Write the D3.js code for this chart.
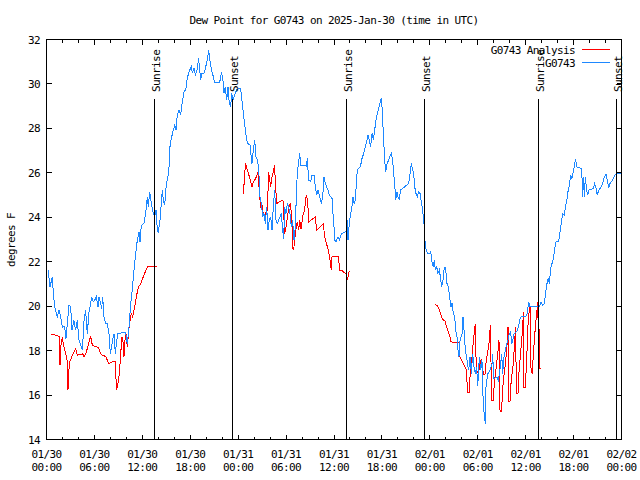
<!DOCTYPE html>
<html>
<head>
<meta charset="utf-8">
<script src="https://cdn.jsdelivr.net/npm/d3@7"></script>
<style>
  html, body { margin: 0; padding: 0; background: #fff; }
  svg { display: block; }
  text { font-family: "DejaVu Sans Mono", monospace; font-size: 11px; letter-spacing: -0.6px; fill: #000; }
</style>
</head>
<body>
<svg id="chart" width="640" height="480"></svg>
<script>
// ---------------- DATA ----------------
const titleText = "Dew Point for G0743 on 2025-Jan-30 (time in UTC)";
const yLabel = "degrees F";
const seriesNames = ["G0743 Analysis", "G0743"];
const seriesColors = ["#ff0000", "#1e88ff"];
const startTime = "2025-01-30T00:00:00Z";
const endTime = "2025-02-02T00:00:00Z";
const yTicks = [14, 16, 18, 20, 22, 24, 26, 28, 30, 32];

// G0743 observations: hours after 2025-01-30 00:00 UTC, dew point (F)
const blueHours = [0.19,0.44,0.73,0.86,1.02,1.36,1.57,1.77,1.98,2.27,2.44,2.61,2.82,3.03,3.19,3.44,3.65,3.86,4.07,4.28,4.49,4.70,4.90,5.11,5.32,5.53,5.66,5.86,6.03,6.24,6.45,6.57,6.78,6.91,7.03,7.20,7.41,7.62,7.83,7.99,8.24,8.45,8.62,8.79,8.95,9.37,9.91,10.12,10.33,10.54,10.75,10.96,11.17,11.37,11.58,11.71,11.87,12.21,12.42,12.63,12.75,12.92,13.13,13.38,13.55,13.71,13.88,14.00,14.21,14.38,14.50,14.63,14.80,15.01,15.21,15.34,15.46,15.63,15.88,16.05,16.22,16.38,16.59,16.80,17.01,17.22,17.43,17.63,17.84,18.14,18.26,18.47,18.64,18.85,19.05,19.18,19.30,19.47,19.72,19.89,20.14,20.31,20.43,20.56,20.72,20.89,21.06,21.68,21.89,22.06,22.23,22.39,22.56,22.73,22.89,23.06,23.19,23.35,23.56,23.81,24.06,24.31,24.52,24.69,24.90,25.06,25.23,25.48,25.73,25.90,26.07,26.23,26.40,26.57,26.73,26.90,27.07,27.23,27.40,27.57,27.74,27.90,28.07,28.24,28.40,28.57,28.74,28.90,29.24,29.41,29.57,29.70,29.82,29.99,30.16,30.32,30.49,30.66,30.82,30.99,31.16,31.33,31.49,31.70,31.83,32.54,32.66,32.83,33.08,33.25,33.50,33.66,33.83,34.00,34.21,34.41,34.58,34.75,34.92,35.08,35.25,35.42,35.58,35.75,35.85,35.92,36.00,36.08,36.25,36.50,36.67,36.84,37.00,37.42,37.55,37.63,37.75,37.92,38.09,38.25,38.38,38.51,38.67,38.80,38.92,39.09,39.30,39.51,39.72,39.92,40.13,40.26,40.42,40.59,40.76,40.93,41.09,41.26,41.43,41.59,41.76,41.89,42.01,42.09,42.22,42.35,42.47,42.64,42.85,43.05,43.18,43.35,43.47,43.60,43.72,43.89,44.01,44.18,44.31,44.85,45.35,45.52,45.68,45.85,45.98,46.10,46.27,46.44,46.60,46.77,46.94,47.10,47.27,47.35,47.52,47.69,47.94,48.11,48.27,48.44,48.56,48.69,48.86,49.02,49.19,49.32,49.48,49.65,49.77,49.90,50.03,50.15,50.32,50.48,50.65,50.78,50.94,51.11,51.24,51.40,51.53,51.65,51.78,51.90,52.03,52.15,52.28,52.45,52.61,52.74,52.86,53.03,53.20,53.36,53.53,53.70,53.86,54.00,54.20,54.37,54.53,54.70,54.82,54.95,55.03,55.24,55.45,55.79,55.87,55.99,56.41,56.58,56.70,56.83,57.00,57.12,57.29,57.46,57.62,57.79,57.96,58.12,58.25,58.37,58.54,58.71,58.96,59.13,59.29,59.46,59.96,60.13,60.25,60.38,60.50,61.71,61.92,62.13,62.34,62.46,62.63,62.80,62.96,63.13,63.30,63.47,63.63,63.80,64.13,64.30,64.47,64.63,64.84,64.97,65.14,65.30,65.47,65.64,65.80,65.97,66.14,66.26,66.39,66.93,67.05,67.14,67.22,67.35,67.47,67.64,67.77,67.89,68.47,68.64,68.81,68.97,69.14,69.48,69.64,69.85,70.06,70.23,70.39,70.56,70.89,71.06,71.23,71.48,71.81,72.00];
const blueValues = [21.62,20.87,21.32,20.57,19.97,19.52,19.82,19.52,19.06,19.09,18.54,19.21,20.04,19.97,18.91,19.36,18.91,19.36,18.46,18.24,18.01,19.36,19.82,18.76,19.74,20.11,20.42,20.19,20.27,20.42,19.97,20.42,20.11,19.89,20.42,19.52,19.21,19.21,18.76,17.86,18.39,18.76,17.86,18.46,18.76,18.80,18.80,18.31,19.06,20.11,20.79,21.62,22.37,22.97,23.34,22.89,23.64,23.72,24.17,24.92,24.47,25.15,24.62,24.17,24.02,24.32,23.42,23.30,23.87,24.62,25.22,24.77,24.55,25.52,25.82,26.27,27.17,27.55,27.92,28.15,27.92,28.60,28.82,28.60,29.20,29.65,29.73,30.25,30.55,30.78,30.48,30.70,30.40,30.63,31.15,30.63,30.18,30.48,30.48,30.70,31.08,31.53,31.15,30.85,30.55,30.33,30.06,30.06,30.48,30.33,29.58,29.88,29.27,29.88,29.12,28.97,29.58,29.27,29.50,29.73,29.80,29.80,29.12,28.52,27.92,27.47,27.32,27.25,26.42,27.02,27.47,26.72,26.57,26.20,24.92,24.62,24.02,24.17,23.72,24.47,23.42,23.87,24.02,23.42,24.47,25.22,23.87,23.72,24.02,24.17,23.42,23.04,24.47,24.17,24.62,24.47,24.17,23.57,23.87,22.97,23.57,25.52,26.27,26.87,26.35,26.30,26.65,25.67,25.60,25.90,25.90,25.37,25.00,25.22,24.92,24.62,24.92,25.82,25.52,25.37,25.22,25.00,24.92,24.85,24.30,23.87,23.57,22.97,22.89,23.12,22.97,23.19,23.27,23.34,23.42,23.87,22.97,23.72,24.17,24.47,24.92,24.62,24.77,25.52,26.12,26.20,26.27,26.65,26.87,27.17,27.47,27.70,27.47,27.17,27.77,27.47,27.92,28.37,28.67,28.90,29.12,29.35,28.97,28.37,27.47,26.57,26.05,26.42,26.57,26.80,26.87,26.57,25.97,25.52,24.77,25.15,24.92,24.77,25.22,25.37,25.52,25.97,26.42,26.12,25.97,25.37,25.07,24.92,25.15,25.07,24.70,24.32,23.72,23.04,22.59,22.37,22.37,22.44,21.99,21.77,22.07,21.62,21.77,21.47,21.62,21.32,20.87,21.17,21.62,21.77,21.47,21.02,20.87,20.42,19.97,20.12,19.67,19.52,18.91,18.61,18.01,17.71,18.46,18.61,18.76,19.52,18.91,18.01,17.71,17.34,17.11,17.71,16.96,17.86,17.26,16.96,17.26,16.40,17.71,17.11,17.56,15.46,15.16,14.71,16.36,16.96,17.04,17.41,17.86,16.74,16.81,16.66,16.96,17.26,17.86,16.96,17.71,18.01,18.31,18.46,18.76,18.84,18.31,18.46,18.76,18.82,18.91,19.14,19.44,19.55,19.52,19.59,19.82,20.19,19.97,19.97,20.19,20.04,20.12,20.49,20.94,21.24,21.02,21.69,21.92,22.14,22.59,22.89,22.92,23.34,23.75,24.17,24.09,24.47,24.70,25.15,25.45,25.90,25.75,26.05,26.42,26.60,26.27,26.20,25.82,24.92,25.82,24.92,25.82,25.22,25.00,25.22,25.30,25.52,25.30,25.00,25.22,25.37,25.52,25.82,25.93,25.67,25.30,25.52,25.67,25.82,25.93,25.97,25.97,25.97];

// G0743 Analysis: hours after start, dew point (F); null marks a gap
const redHours = [0.61,1.27,1.57,1.69,1.77,1.86,1.98,2.19,2.40,2.61,2.69,2.86,3.03,3.23,3.44,3.65,3.86,4.53,4.70,4.90,5.11,5.32,5.53,5.74,6.37,6.57,6.78,6.99,7.41,7.62,7.83,8.45,8.62,8.66,8.79,8.95,9.12,9.29,9.45,9.62,9.70,9.83,9.95,10.12,10.29,10.46,10.62,10.79,10.96,11.12,11.29,11.46,11.62,11.79,11.96,12.12,12.29,12.46,12.63,13.88,null,24.61,24.73,24.81,24.94,25.06,25.23,25.40,25.57,25.73,25.90,26.07,26.27,26.48,26.61,26.73,26.82,26.98,27.15,27.32,27.49,27.65,27.74,27.82,27.95,28.07,28.24,28.40,28.57,28.65,28.74,28.82,29.20,29.61,29.70,29.82,29.95,30.07,30.24,30.37,30.53,30.66,30.78,30.87,30.99,31.12,31.28,31.41,31.58,31.70,31.87,31.99,32.16,32.33,32.45,32.58,32.74,32.83,33.25,33.66,33.83,34.25,34.66,34.83,35.00,35.17,35.33,35.50,35.67,35.75,36.59,36.67,37.00,37.42,37.59,37.67,37.75,37.92,null,48.65,48.98,49.19,49.40,49.61,49.90,50.11,50.32,50.53,50.65,51.69,51.78,51.99,52.20,52.40,52.61,52.70,52.95,53.03,53.16,53.28,53.45,53.57,53.70,53.78,53.87,54.07,54.28,54.45,54.62,54.70,54.91,55.03,55.20,55.37,55.53,55.62,55.70,55.95,56.04,56.20,56.37,56.54,56.66,56.79,56.95,57.08,57.20,57.37,57.54,57.71,57.79,57.87,57.91,58.04,58.12,58.29,58.46,58.62,58.75,58.83,59.04,59.12,59.29,59.50,59.63,59.71,59.75,59.96,60.04,60.13,60.21,60.33,60.46,60.54,60.63,60.83,60.96,61.09,61.21,61.38,61.50,61.59,61.63,61.71,61.75,61.88];
const redValues = [18.73,18.69,18.64,17.34,18.01,18.46,18.54,18.16,17.86,17.49,16.24,17.49,17.56,17.79,17.94,18.09,17.79,17.86,17.71,17.86,18.09,18.39,18.64,18.24,18.16,18.09,17.86,17.79,17.74,17.56,17.41,17.53,17.53,16.96,16.24,16.51,16.96,17.86,18.61,18.31,17.71,18.46,18.76,18.16,18.91,19.36,19.67,19.52,19.82,20.12,20.49,20.79,20.94,20.98,21.17,21.32,21.47,21.62,21.77,21.80,null,25.07,25.45,25.97,26.42,26.20,26.05,25.82,25.60,25.37,25.60,25.67,25.82,26.05,25.37,24.77,24.47,24.55,24.17,24.02,24.24,24.32,25.22,26.05,25.67,25.37,25.82,26.05,26.35,25.52,25.07,24.62,24.70,24.77,24.17,23.27,23.42,23.79,24.17,24.47,24.62,24.17,23.57,22.52,22.67,23.12,23.57,23.79,23.42,23.87,23.49,23.79,24.17,24.32,24.85,25.00,24.47,23.79,23.90,24.02,23.42,23.57,23.72,23.12,22.89,22.67,22.44,22.07,21.62,22.22,22.25,21.62,21.60,21.47,21.40,21.17,21.32,21.60,null,20.07,20.00,19.82,19.59,19.40,19.34,19.06,18.84,18.61,18.39,18.36,17.71,17.56,17.41,17.26,17.11,16.11,16.11,16.81,17.26,17.71,18.46,18.84,19.21,17.71,17.11,16.96,17.41,17.64,17.26,16.93,16.93,17.41,17.86,18.16,18.91,19.14,15.76,15.76,16.36,16.96,17.41,18.01,18.46,15.27,15.27,15.91,16.66,17.11,17.71,18.46,19.06,18.46,15.72,15.72,16.36,16.96,17.41,18.46,19.06,16.06,16.06,16.81,17.56,18.46,19.06,19.74,16.36,16.36,16.96,17.56,18.46,19.44,19.82,20.12,17.26,16.96,17.86,18.46,19.06,19.67,20.19,18.76,19.36,18.61,17.19,17.19];

// Sunrise / sunset markers
const sunLabels = ["Sunrise", "Sunset", "Sunrise", "Sunset", "Sunrise", "Sunset"];
const sunTimes = ["2025-01-30T13:31:00Z", "2025-01-30T23:17:00Z", "2025-01-31T13:34:00Z",
                  "2025-01-31T23:20:00Z", "2025-02-01T13:37:00Z", "2025-02-01T23:26:00Z"];

// ---------------- CHART ----------------
const svg = d3.select("#chart");
const L = 46.5, R = 621.5, T = 39.5, B = 439.5;
const t0 = new Date(startTime), t1 = new Date(endTime);
const x = d3.scaleUtc().domain([t0, t1]).range([L, R]);
const y = d3.scaleLinear().domain([14, 32]).range([B, T]);
const toDate = h => new Date(t0.getTime() + h * 3600e3);

const blue = blueHours.map((h, i) => ({ t: toDate(h), v: blueValues[i] }));
const red = redHours.map((h, i) => ({ t: h == null ? null : toDate(h), v: redValues[i] }));

const majors = d3.utcHour.every(6).range(t0, new Date(t1.getTime() + 1));
const minors = d3.utcHour.every(2).range(t0, t1).filter(d => d.getUTCHours() % 6 !== 0);

function tickAxis(axisFn, scale, values, size, transform) {
  const g = svg.append("g").attr("transform", transform)
    .call(axisFn(scale).tickValues(values).tickSizeInner(-size).tickSizeOuter(0).tickFormat("").offset(0));
  g.select(".domain").remove();
  g.selectAll(".tick line").attr("stroke", "#000").attr("shape-rendering", "crispEdges");
  g.selectAll(".tick text").remove();
  return g;
}
// x ticks bottom/top (major + minor), y ticks left/right
tickAxis(d3.axisBottom, x, majors, 5, `translate(0,${B})`);
tickAxis(d3.axisBottom, x, minors, 3, `translate(0,${B})`);
tickAxis(d3.axisTop, x, majors, 5, `translate(0,${T})`);
tickAxis(d3.axisTop, x, minors, 3, `translate(0,${T})`);
tickAxis(d3.axisLeft, y, yTicks, 5, `translate(${L},0)`);
tickAxis(d3.axisRight, y, yTicks, 5, `translate(${R},0)`);

// x tick labels (two lines)
const fmtDate = d3.utcFormat("%m/%d"), fmtTime = d3.utcFormat("%H:%M");
const xl = svg.append("g").selectAll("text").data(majors).join("text")
  .attr("text-anchor", "middle");
xl.append("tspan").attr("x", d => x(d)).attr("y", 458).text(d => fmtDate(d));
xl.append("tspan").attr("x", d => x(d)).attr("y", 471).text(d => fmtTime(d));

// y tick labels
svg.append("g").selectAll("text").data(yTicks).join("text")
  .attr("x", 40).attr("y", d => y(d) + 4).attr("text-anchor", "end").text(d => d);

// title and y label
svg.append("text").attr("x", (L + R) / 2).attr("y", 24).attr("text-anchor", "middle").text(titleText);
svg.append("text").attr("transform", "translate(15,240) rotate(-90)").attr("text-anchor", "middle").text(yLabel);

// data lines
const line = d3.line().defined(d => d.v != null && d.t != null).x(d => x(d.t)).y(d => y(d.v));
svg.append("path").datum(red).attr("d", line).attr("fill", "none")
  .attr("stroke", seriesColors[0]).attr("stroke-width", 1).attr("shape-rendering", "crispEdges");
svg.append("path").datum(blue).attr("d", line).attr("fill", "none")
  .attr("stroke", seriesColors[1]).attr("stroke-width", 1).attr("shape-rendering", "crispEdges");

// sunrise / sunset markers
const sun = sunTimes.map((s, i) => ({ t: new Date(s), label: sunLabels[i] }));
const sg = svg.append("g");
sg.selectAll("line").data(sun).join("line")
  .attr("x1", d => Math.floor(x(d.t)) + 0.5).attr("x2", d => Math.floor(x(d.t)) + 0.5)
  .attr("y1", 99).attr("y2", B)
  .attr("stroke", "#000").attr("shape-rendering", "crispEdges");
sg.selectAll("text").data(sun).join("text")
  .attr("transform", d => `translate(${Math.floor(x(d.t)) + 6},92) rotate(-90)`)
  .attr("text-anchor", "start").text(d => d.label);

// border
svg.append("rect").attr("x", L).attr("y", T).attr("width", R - L).attr("height", B - T)
  .attr("fill", "none").attr("stroke", "#000").attr("shape-rendering", "crispEdges");

// legend
const lg = svg.append("g");
seriesNames.forEach((name, i) => {
  const yy = 49.5 + i * 13;
  lg.append("text").attr("x", 575).attr("y", yy + 4.5).attr("text-anchor", "end").text(name);
  lg.append("line").attr("x1", 582).attr("x2", 610).attr("y1", yy).attr("y2", yy)
    .attr("stroke", seriesColors[i]).attr("shape-rendering", "crispEdges");
});
</script>
</body>
</html>
